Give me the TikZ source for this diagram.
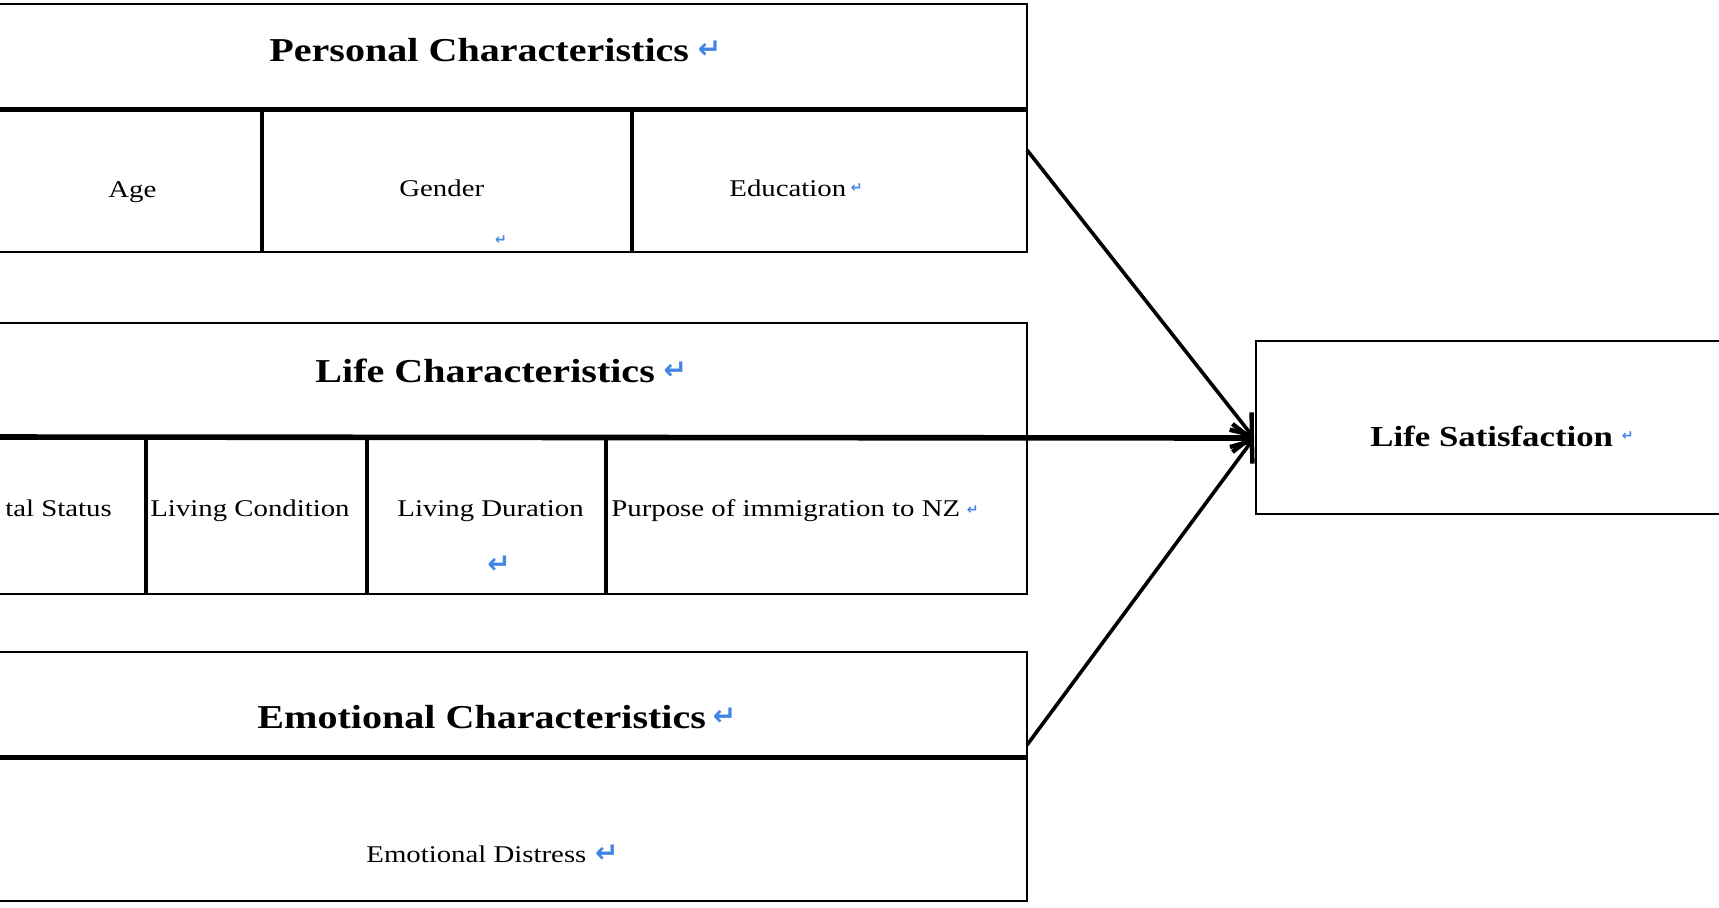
\documentclass[tikz,border=0pt]{standalone}
\usepackage{fontspec}
\setmainfont{Liberation Serif}
\newfontfamily\cellfont[FakeStretch=1.2]{Liberation Serif}
\newfontfamily\symfont{DejaVu Sans}
\usetikzlibrary{arrows.meta,fit}
\definecolor{markblue}{RGB}{66,133,230}
\tikzset{
  box/.style={draw, line width=1.3pt, inner sep=0pt},
  divider/.style={line width=2.8pt},
  sepline/.style={line width=1.7pt},
  head/.style={font=\cellfont\bfseries\fontsize{16.7}{20}\selectfont, inner sep=0pt, anchor=base west},
  cell/.style={font=\cellfont\fontsize{12}{14}\selectfont, inner sep=0pt, anchor=base west},
  lsfont/.style={font=\cellfont\bfseries\fontsize{14.5}{17}\selectfont, inner sep=0pt, anchor=base west},
  bigmark/.style={font=\symfont\bfseries\fontsize{14}{16}\selectfont, text=markblue, inner sep=0pt},
  tinymark/.style={font=\symfont\bfseries\fontsize{7}{8}\selectfont, text=markblue, inner sep=0pt},
  tiphead/.style={-{Straight Barb[length=9pt,width=14pt,line width=2.2pt]}},
  conn/.style={line width=1.8pt, tiphead}
}
\begin{document}
\begin{tikzpicture}[x=0.5pt,y=-0.5pt]
\useasboundingbox (0,0) rectangle (1719,907);
\clip (0,0) rectangle (1719,907);
% Personal characteristics
\node[box, fit={(-10,4)(1027,108)}] (pers) {};
\node[box, fit={(-10,108)(261,252)}] (age) {};
\node[box, fit={(261,108)(633,252)}] (gender) {};
\node[box, fit={(633,108)(1027,252)}] (edu) {};
\draw[divider] (pers.south west) -- (pers.south east);
\draw[sepline] (age.north east) -- (age.south east);
\draw[sepline] (edu.north west) -- (edu.south west);
\node[head] (tpers) at (269,61) {Personal Characteristics};
\node[bigmark, anchor=west] (mpers) at ([xshift=4pt]tpers.east) {↵};
\node[cell] (tage) at (108,197) {Age};
\node[cell] (tgender) at (399,196) {Gender};
\node[tinymark] (mgender) at (501,240) {↵};
\node[cell] (tedu) at (729,196) {Education};
\node[tinymark, anchor=west] (medu) at ([xshift=2pt]tedu.east) {↵};
% Life characteristics
\node[box, fit={(-10,323)(1027,437)}] (life) {};
\node[box, fit={(-10,437)(145,594)}] (marital) {};
\node[box, fit={(145,437)(368,594)}] (cond) {};
\node[box, fit={(368,437)(605,594)}] (dur) {};
\node[box, fit={(605,437)(1027,594)}] (purp) {};
\draw[sepline] (marital.north east) -- (marital.south east);
\draw[sepline] (dur.north west) -- (dur.south west);
\draw[sepline] (dur.north east) -- (dur.south east);
\node[head] (tlife) at (315,382) {Life Characteristics};
\node[bigmark, anchor=west] (mlife) at ([xshift=4pt]tlife.east) {↵};
\node[cell] (tmar) at (5,516) {tal Status};
\node[cell] (tcond) at (150,516) {Living Condition};
\node[cell] (tdur) at (397,516) {Living Duration};
\node[bigmark] (mdur) at (499,565) {↵};
\node[cell] (tpurp) at (611,516) {Purpose of immigration to NZ};
\node[tinymark, anchor=west] (mpurp) at ([xshift=3pt]tpurp.east) {↵};
% Emotional characteristics
\node[box, fit={(-10,652)(1027,756)}] (emo) {};
\node[box, fit={(-10,756)(1027,901)}] (dist) {};
\draw[divider] (emo.south west) -- (emo.south east);
\node[head] (temo) at (257,728) {Emotional Characteristics};
\node[bigmark, anchor=west] (memo) at ([xshift=3pt]temo.east) {↵};
\node[cell] (tdist) at (366,862) {Emotional Distress};
\node[bigmark, anchor=west] (mdist) at ([xshift=4pt]tdist.east) {↵};
% Life satisfaction
\node[box, fit={(1256,341)(1740,514)}] (ls) {};
\node[lsfont] (tls) at (1370,446) {Life Satisfaction};
\node[tinymark, anchor=west] (mls) at ([xshift=4pt]tls.east) {↵};
% connectors
\coordinate (tip) at (1254,438);
\coordinate (pout) at (1027,150);
\coordinate (eout) at (1027,745);
\coordinate (lstart) at (-10,437);
\draw[conn] (pout) -- (tip);
\draw[conn] (eout) -- (tip);
\draw[divider, tiphead] (lstart) -- (tip);
\end{tikzpicture}
\end{document}
